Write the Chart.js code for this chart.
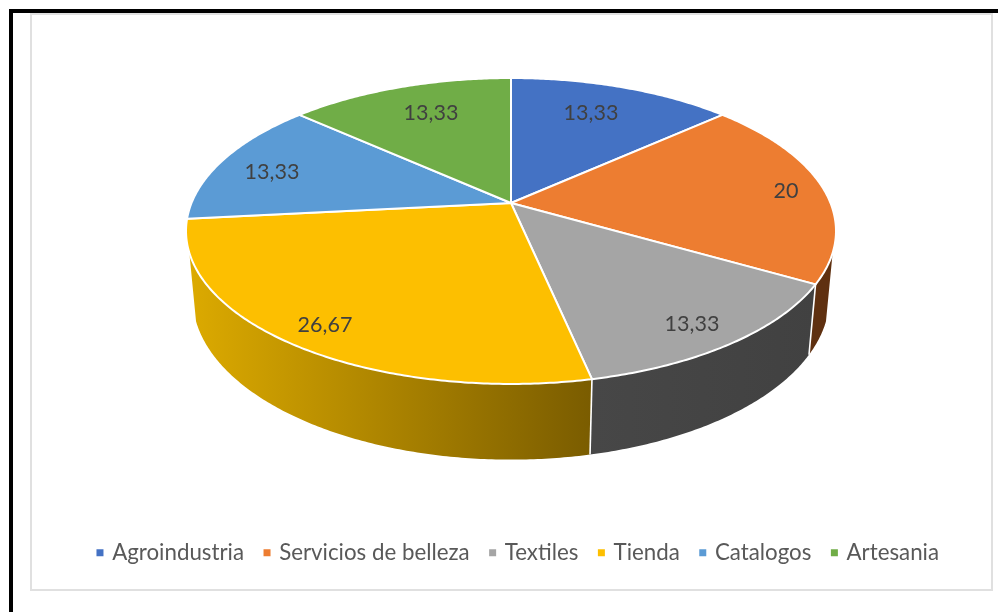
<!DOCTYPE html>
<html>
<head>
<meta charset="utf-8">
<title>Pie</title>
<script src="https://cdn.jsdelivr.net/npm/chart.js@4"></script>
<style>
  html, body { margin: 0; padding: 0; background: #fff; overflow: hidden; }
  #page { position: relative; width: 998px; height: 612px; }
  #black { position: absolute; left: 9px; top: 9px; right: 0; bottom: 0; border-left: 4px solid #000; border-top: 4px solid #000; }
  #box { position: absolute; left: 30px; top: 13px; width: 959px; height: 574px; border: 2px solid #e0e0e0; }
  canvas { position: absolute; left: 0; top: 0; }
</style>
</head>
<body>
<div id="page">
  <div id="black"></div>
  <div id="box"></div>
  <canvas id="chart" width="998" height="612"></canvas>
</div>
<script>
const categories = ['Agroindustria', 'Servicios de belleza', 'Textiles', 'Tienda', 'Catalogos', 'Artesania'];
const values = [13.33, 20, 13.33, 26.67, 13.33, 13.33];
const colors = ['#4472C4', '#ED7D31', '#A5A5A5', '#FDBF00', '#5B9BD5', '#70AD47'];

// side wall shading, [left, right] colour for each slice
const wallColors = [
  ['#2a4478', '#2a4478'],
  ['#5f3010', '#5f3010'],
  ['#474747', '#414141'],
  ['#dcaa00', '#7a5c00'],
  ['#376092', '#376092'],
  ['#43682b', '#43682b']
];

// where the value labels sit
const labelPos = [[591, 113], [786, 191], [692, 324], [325, 325], [272, 172], [431, 113]];

// perspective of the disc: top face and bottom face
const cx = 511, cy = 203, ax = 319.5, by = 110.7, k = -0.183;
const depthW = 0.02, depthY = 71;
// the wall shows between these angles, outline of the cylinder
const wallFrom = 108.5 * Math.PI / 180, wallTo = 251.5 * Math.PI / 180;

function project(theta, r, bottom) {
  const u = Math.sin(theta) * r, v = -Math.cos(theta) * r;
  const w = 1 + k * v + (bottom ? depthW : 0);
  return [cx + ax * u / w, (cy + by * v + (bottom ? depthY : 0)) / w];
}

function trace(ctx, from, to, bottom, first) {
  const n = Math.max(2, Math.ceil(Math.abs(to - from) / 0.01));
  for (let i = 0; i <= n; i++) {
    const p = project(from + (to - from) * i / n, 1, bottom);
    if (i === 0 && first) ctx.moveTo(p[0], p[1]);
    else ctx.lineTo(p[0], p[1]);
  }
}

const disc3d = {
  id: 'disc3d',
  beforeDatasetDraw(chart) {
    const ctx = chart.ctx;
    const arcs = chart.getDatasetMeta(0).data;
    const quarter = Math.PI / 2;
    ctx.save();
    ctx.lineJoin = 'round';

    // walls, only the front part can be seen
    arcs.forEach((arc, i) => {
      const a = Math.max(arc.startAngle + quarter, wallFrom);
      const b = Math.min(arc.endAngle + quarter, wallTo);
      if (b <= a) return;
      const pa = project(a, 1, false), pb = project(b, 1, false);
      const grad = ctx.createLinearGradient(Math.min(pa[0], pb[0]), 0, Math.max(pa[0], pb[0]), 0);
      grad.addColorStop(0, wallColors[i][0]);
      grad.addColorStop(1, wallColors[i][1]);
      ctx.beginPath();
      trace(ctx, a, b, false, true);
      trace(ctx, b, a, true, false);
      ctx.closePath();
      ctx.fillStyle = grad;
      ctx.fill();
    });
    // white edges between the walls
    ctx.strokeStyle = '#fff';
    ctx.lineWidth = 1.6;
    arcs.forEach(arc => {
      const t = arc.endAngle + quarter;
      if (t <= wallFrom || t >= wallTo) return;
      const p = project(t, 1, false), q = project(t, 1, true);
      ctx.beginPath();
      ctx.moveTo(p[0], p[1]);
      ctx.lineTo(q[0], q[1]);
      ctx.stroke();
    });

    // top face
    ctx.lineWidth = 2;
    arcs.forEach((arc, i) => {
      const c = project(0, 0, false);
      ctx.beginPath();
      ctx.moveTo(c[0], c[1]);
      trace(ctx, arc.startAngle + quarter, arc.endAngle + quarter, false, false);
      ctx.closePath();
      ctx.fillStyle = colors[i];
      ctx.fill();
      ctx.stroke();
    });

    // value labels
    ctx.fillStyle = '#404040';
    ctx.font = '21.5px Lato';
    ctx.textAlign = 'center';
    ctx.textBaseline = 'middle';
    values.forEach((val, i) => {
      ctx.fillText(String(val).replace('.', ','), labelPos[i][0], labelPos[i][1] + 0.5);
    });
    ctx.restore();
    return false;
  }
};

new Chart(document.getElementById('chart'), {
  type: 'pie',
  data: {
    labels: categories,
    datasets: [{ data: values, backgroundColor: colors, borderColor: '#fff' }]
  },
  options: {
    responsive: false,
    animation: false,
    layout: { padding: { left: 40, bottom: 38 } },
    plugins: {
      tooltip: { enabled: false },
      legend: {
        position: 'bottom',
        labels: {
          color: '#595959',
          font: { family: 'Lato', size: 22.3 },
          usePointStyle: true,
          pointStyle: 'rect',
          boxWidth: 2,
          boxHeight: 9,
          padding: 22
        }
      }
    }
  },
  plugins: [disc3d]
});
</script>
</body>
</html>
